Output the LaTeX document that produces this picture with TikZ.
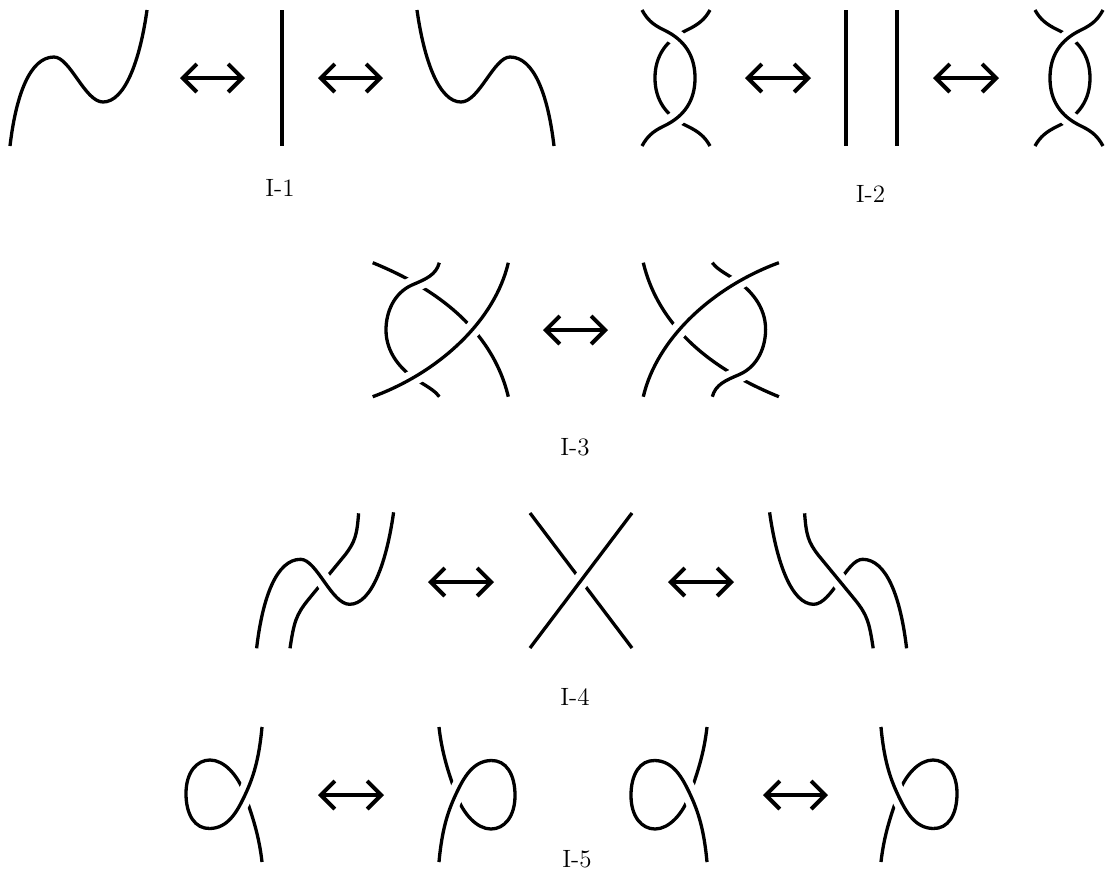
\documentclass[tikz,border=0pt]{standalone}
\usepackage{fontspec}
\usetikzlibrary{arrows.meta}
\begin{document}
\begin{tikzpicture}[x=0.5pt,y=-0.5pt,
  strand/.style={line width=1.65pt},
  over/.style={preaction={draw=white,line width=8pt},strand},
  arr/.style={line width=2pt,{Straight Barb[length=7pt,width=14pt]}-{Straight Barb[length=7pt,width=14pt]}},
  lab/.style={font=\fontsize{12.5}{15}\selectfont, inner sep=0pt}]
\useasboundingbox (0,0) rectangle (1105,880);

% ---------- I-1 ----------
\draw[strand] (10,146) .. controls (16,95) and (30,57) .. (54,57) .. controls (70,57) and (85,102) .. (103,102) .. controls (125,102) and (140,60) .. (147,10);
\draw[strand] (282,10) -- (282,146);
\draw[strand] (554,146) .. controls (548,95) and (534,57) .. (510,57) .. controls (494,57) and (479,102) .. (461,102) .. controls (439,102) and (424,60) .. (417,10);
\coordinate (a1s) at (180,78); \coordinate (a1e) at (245,78);
\coordinate (a2s) at (318,78); \coordinate (a2e) at (383,78);
\draw[arr] (a1s) -- (a1e);
\draw[arr] (a2s) -- (a2e);
\node[lab] (l1) at (280,188) {I-1};

% ---------- I-2 ----------
\draw[strand] (710,10) .. controls (705,19) and (699,24.3) .. (687,30) .. controls (666,40) and (655,56) .. (655,78) .. controls (655,100) and (666,116) .. (687,126) .. controls (699,131.7) and (705,137) .. (710,146);
\draw[over] (642,10) .. controls (647,19) and (652,24.3) .. (664,30) .. controls (685,40) and (695,56) .. (695,78) .. controls (695,100) and (685,116) .. (664,126) .. controls (652,131.7) and (647,137) .. (642,146);
\draw[strand] (846,10) -- (846,146);
\draw[strand] (897,10) -- (897,146);
\draw[strand] (1035,10) .. controls (1040,19) and (1046,24.3) .. (1058,30) .. controls (1079,40) and (1090,56) .. (1090,78) .. controls (1090,100) and (1079,116) .. (1058,126) .. controls (1046,131.7) and (1040,137) .. (1035,146);
\draw[over] (1103,10) .. controls (1098,19) and (1093,24.3) .. (1081,30) .. controls (1060,40) and (1050,56) .. (1050,78) .. controls (1050,100) and (1060,116) .. (1081,126) .. controls (1093,131.7) and (1098,137) .. (1103,146);
\coordinate (b1s) at (745,78); \coordinate (b1e) at (811,78);
\coordinate (b2s) at (933,78); \coordinate (b2e) at (999,78);
\draw[arr] (b1s) -- (b1e);
\draw[arr] (b2s) -- (b2e);
\node[lab] (l2) at (870.5,194) {I-2};

% ---------- I-3 ----------
\draw[strand] (372.7,262.7) .. controls (420,282) and (490,320) .. (508.3,396.7);
\draw[over] (439.3,262.7) .. controls (436,275) and (426,279) .. (412,285) .. controls (394,293) and (386,312) .. (386,330) .. controls (386,352) and (400,370) .. (420,382) .. controls (430,388) and (436,392) .. (439.3,396.7);
\draw[over] (372.7,396.7) .. controls (440,372) and (495,320) .. (508.3,262.7);

\draw[strand] (778.9,396.7) .. controls (731.6,377.4) and (661.6,339.4) .. (643.3,262.7);
\draw[over] (712.3,396.7) .. controls (715.6,384.4) and (725.6,380.4) .. (739.6,374.4) .. controls (757.6,366.4) and (765.6,347.4) .. (765.6,329.4) .. controls (765.6,307.4) and (751.6,289.4) .. (731.6,277.4) .. controls (721.6,271.4) and (715.6,267.4) .. (712.3,262.7);
\draw[over] (778.9,262.7) .. controls (711.6,287.4) and (656.6,339.4) .. (643.3,396.7);
\coordinate (c1s) at (543,330); \coordinate (c1e) at (608,330);
\draw[arr] (c1s) -- (c1e);
\node[lab] (l3) at (575,447) {I-3};

% ---------- I-4 ----------
\draw[strand] (290,648.3) .. controls (294,622) and (296,615) .. (308,600) -- (345,555) .. controls (355,542) and (357,535) .. (358.6,513.3);
\draw[over] (256.6,648.3) .. controls (262.6,597.3) and (276.6,559.3) .. (300.6,559.3) .. controls (316.6,559.3) and (331.6,604.3) .. (349.6,604.3) .. controls (371.6,604.3) and (386.6,562.3) .. (393.6,512.3);

\draw[strand] (530,513) -- (632,648);
\draw[over] (632,513) -- (530,648);

\draw[strand] (906.6,648.3) .. controls (900.6,597.3) and (886.6,559.3) .. (862.6,559.3) .. controls (846.6,559.3) and (831.6,604.3) .. (813.6,604.3) .. controls (791.6,604.3) and (776.6,562.3) .. (769.6,512.3);
\draw[over] (873.2,648.3) .. controls (869.2,622) and (867.2,615) .. (855.2,600) -- (818.2,555) .. controls (808.2,542) and (806.2,535) .. (804.6,513.3);
\coordinate (d1s) at (428,582); \coordinate (d1e) at (494,582);
\coordinate (d2s) at (668,582); \coordinate (d2e) at (734,582);
\draw[arr] (d1s) -- (d1e);
\draw[arr] (d2s) -- (d2e);
\node[lab] (l4) at (575,697) {I-4};

% ---------- I-5 ----------
% fig 1
\draw[strand] (262,727) .. controls (259,760) and (253,778) .. (245,795) .. controls (237,812) and (228,828) .. (210,828.5) .. controls (195,829) and (186,815) .. (186,793.5) .. controls (186,772) and (197,760) .. (210,760) .. controls (224,760) and (238,775) .. (245,795) .. controls (252,815) and (259,835) .. (262,862);
\draw[over] (262,727) .. controls (259,760) and (253,778) .. (245,795) .. controls (237,812) and (228,828) .. (210,828.5);
% fig 2
\draw[strand] (439,862) .. controls (442,829) and (448,811) .. (456,794) .. controls (464,777) and (473,761) .. (491,760.5) .. controls (506,760) and (515,774) .. (515,795.5) .. controls (515,817) and (504,829) .. (491,829) .. controls (477,829) and (463,814) .. (456,794) .. controls (449,774) and (442,754) .. (439,727);
\draw[over] (439,862) .. controls (442,829) and (448,811) .. (456,794) .. controls (464,777) and (473,761) .. (491,760.5);
% fig 3
\draw[strand] (707,862) .. controls (704,829) and (698,811) .. (690,794) .. controls (682,777) and (673,761) .. (655,760.5) .. controls (640,760) and (631,774) .. (631,795.5) .. controls (631,817) and (642,829) .. (655,829) .. controls (669,829) and (683,814) .. (690,794) .. controls (697,774) and (704,754) .. (707,727);
\draw[over] (707,862) .. controls (704,829) and (698,811) .. (690,794) .. controls (682,777) and (673,761) .. (655,760.5);
% fig 4
\draw[strand] (881,727) .. controls (884,760) and (890,778) .. (898,795) .. controls (906,812) and (915,828) .. (933,828.5) .. controls (948,829) and (957,815) .. (957,793.5) .. controls (957,772) and (946,760) .. (933,760) .. controls (919,760) and (905,775) .. (898,795) .. controls (891,815) and (884,835) .. (881,862);
\draw[over] (881,727) .. controls (884,760) and (890,778) .. (898,795) .. controls (906,812) and (915,828) .. (933,828.5);
\coordinate (e1s) at (318,795); \coordinate (e1e) at (384,795);
\coordinate (e2s) at (763,795); \coordinate (e2e) at (828,795);
\draw[arr] (e1s) -- (e1e);
\draw[arr] (e2s) -- (e2e);
\node[lab] (l5) at (577,859) {I-5};
\end{tikzpicture}
\end{document}
